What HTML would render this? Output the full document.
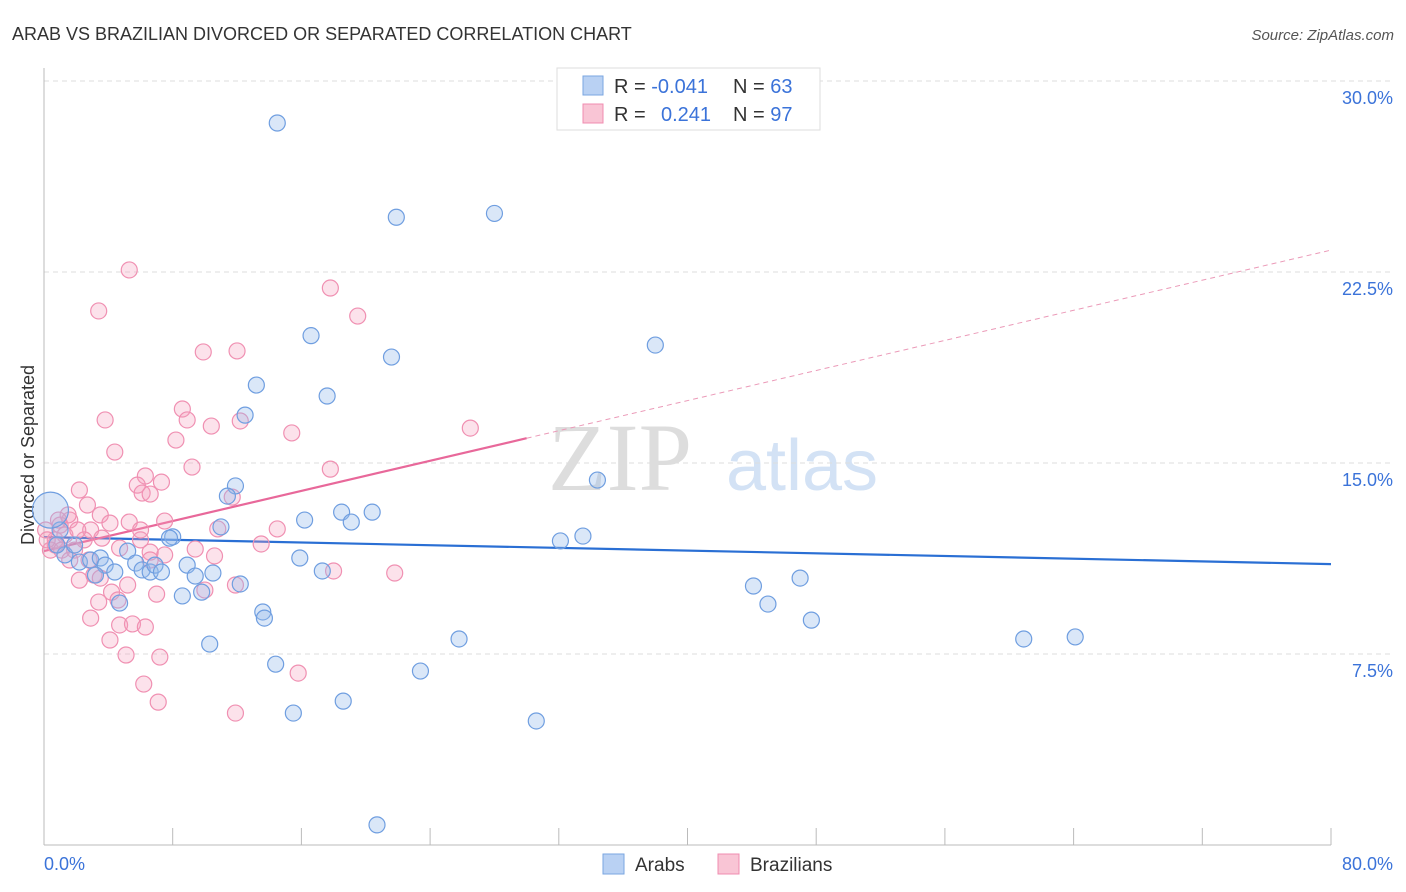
<!DOCTYPE html>
<html><head><meta charset="utf-8"><style>
body{margin:0;background:#fff;width:1406px;height:892px;overflow:hidden;font-family:"Liberation Sans",sans-serif}
svg{position:absolute;left:0;top:0}
</style></head><body>
<svg id="chart" width="1406" height="892">
<text x="12" y="40" font-size="18" fill="#333">ARAB VS BRAZILIAN DIVORCED OR SEPARATED CORRELATION CHART</text>
<text x="1394" y="40" font-size="15" fill="#555" font-style="italic" text-anchor="end">Source: ZipAtlas.com</text>
<text x="620" y="490" font-size="96" fill="#ddd" font-family="Liberation Serif,serif" text-anchor="middle">ZIP</text>
<text x="802" y="490" font-size="72" fill="#d3e2f5" text-anchor="middle">atlas</text>
<text transform="translate(34,455) rotate(-90)" font-size="18" fill="#333" text-anchor="middle">Divorced or Separated</text>
<g id="grid"></g><g id="axes"></g><g id="lines"></g><g id="pts"></g>
<g>
<rect x="557" y="68" width="263" height="62" fill="#fff" stroke="#ddd"/>
<rect x="583" y="76" width="20" height="19" fill="#b9d1f3" stroke="#7aa6e0"/>
<rect x="583" y="104" width="20" height="19" fill="#f9c5d5" stroke="#f08cb0"/>
<text x="614" y="93" font-size="20" fill="#333">R = <tspan fill="#3b73d9">-0.041</tspan></text>
<text x="733" y="93" font-size="20" fill="#333">N = <tspan fill="#3b73d9">63</tspan></text>
<text x="614" y="121" font-size="20" fill="#333">R = <tspan fill="#3b73d9" x="661">0.241</tspan></text>
<text x="733" y="121" font-size="20" fill="#333">N = <tspan fill="#3b73d9">97</tspan></text>
</g>
<g>
<rect x="603" y="854" width="21" height="20" fill="#b9d1f3" stroke="#7aa6e0"/>
<text x="635" y="871" font-size="19" fill="#333">Arabs</text>
<rect x="718" y="854" width="21" height="20" fill="#f9c5d5" stroke="#f08cb0"/>
<text x="750" y="871" font-size="19" fill="#333">Brazilians</text>
</g>
</svg>
<script>
const yTicks=[7.5,15,22.5,30];
const xTickLabels=["0.0%","80.0%"];
const arabX=[14.5,21.9,28.0,38.0,16.6,21.6,13.2,17.6,12.5,11.9,11.4,34.4,18.5,20.4,19.1,16.2,11.0,8.0,32.1,33.5,15.9,17.3,8.9,10.5,9.4,12.2,8.6,9.8,13.6,13.7,44.1,47.0,45.0,47.7,25.8,10.3,14.4,23.4,60.9,64.1,15.5,18.6,30.6,20.7,1.0,1.3,1.9,2.2,2.9,3.5,3.8,4.4,4.7,5.2,5.7,6.1,6.6,6.9,7.3,3.2,7.8,0.8];
const arabY=[28.35,24.65,24.8,19.63,20.0,19.16,18.06,17.63,16.88,14.1,13.7,14.33,13.07,13.07,12.68,12.76,12.49,12.1,11.94,12.13,11.27,10.76,10.99,10.68,10.56,10.25,9.78,9.93,9.15,8.91,10.17,10.48,9.46,8.83,8.09,7.89,7.1,6.83,8.09,8.17,5.18,5.65,4.87,0.79,12.37,11.39,11.78,11.11,11.19,11.27,10.99,10.72,9.5,11.54,11.07,10.8,10.72,10.99,10.72,10.6,12.05,11.78];
const bigArab=[0.4,13.15];
const brazX=[5.3,3.4,17.8,19.5,9.9,12.0,3.8,4.4,8.6,8.9,10.4,12.2,15.4,26.5,8.2,9.2,17.8,6.3,7.3,5.8,6.1,6.6,2.2,11.7,2.7,1.6,1.0,3.5,4.1,5.3,7.5,10.8,14.5,0.7,0.4,1.3,1.9,2.9,3.6,4.7,6.0,6.6,7.5,9.4,10.6,13.5,2.8,3.1,3.5,2.2,4.2,4.6,3.4,5.2,7.0,11.9,10.0,18.0,21.8,2.9,4.7,5.5,6.3,4.1,5.1,7.2,6.2,7.1,11.9,15.8,0.7,1.1,1.6,0.1,0.2,2.5,6.0,6.6,1.5,2.1,0.9];
const brazY=[22.58,20.97,21.87,20.77,19.36,19.4,16.69,15.43,17.12,16.69,16.45,16.65,16.18,16.37,15.9,14.84,14.76,14.49,14.25,14.13,13.82,13.78,13.94,13.66,13.35,12.76,12.56,12.96,12.64,12.68,12.72,12.41,12.41,11.98,11.58,12.17,11.58,12.37,12.05,11.66,11.98,11.5,11.39,11.62,11.35,11.82,11.19,10.6,10.48,10.4,9.93,9.62,9.54,10.21,9.85,10.21,10.01,10.76,10.68,8.91,8.64,8.68,8.56,8.05,7.46,7.38,6.32,5.61,5.18,6.75,11.78,11.58,11.19,12.37,11.98,11.98,12.37,11.19,12.96,12.37,12.76];
const arabTrend=[12.09,11.03];
const brazTrend=[11.54,23.36];
const brazSolidEnd=30;
const X=v=>44+v*1287/80, Y=v=>845-v*25.467;
const NS="http://www.w3.org/2000/svg";
function mk(tag,parent,attrs){const e=document.createElementNS(NS,tag);for(const k in attrs)e.setAttribute(k,attrs[k]);document.getElementById(parent).appendChild(e);return e;}
yTicks.forEach(t=>{
 const l=mk('line','grid',{x1:44,x2:1394,y1:Y(t),y2:Y(t),stroke:'#ddd','stroke-dasharray':'5,4'});
 
 
 const tx=mk('text','grid',{x:1393,y:Y(t)+23,'font-size':18,fill:'#3b73d9','text-anchor':'end'});
 tx.textContent=t.toFixed(1)+'%';
 
 
});
const ax=mk('line','axes',{x1:44,x2:1331,y1:845,y2:845,stroke:'#bbb'});


const ay=mk('line','axes',{x1:44,x2:44,y1:68,y2:845,stroke:'#bbb'});


for(let i=0;i<=10;i++){const t=mk('line','axes',{x1:X(i*8),x2:X(i*8),y1:828,y2:845,stroke:'#bbb'});
 
 }
const xl0=mk('text','axes',{x:44,y:870,'font-size':18,fill:'#3b73d9'});xl0.textContent=xTickLabels[0];


const xl1=mk('text','axes',{x:1393,y:870,'font-size':18,fill:'#3b73d9','text-anchor':'end'});xl1.textContent=xTickLabels[1];


function dot(x,y,r,fill,stroke,name){const c=mk('circle','pts',{cx:X(x),cy:Y(y),r:r,fill:fill,stroke:stroke,'stroke-width':1.2});
 
 }
brazX.forEach((x,i)=>dot(x,brazY[i],8,'rgba(245,160,190,0.3)','#f090b2','brazilian-point'));
arabX.forEach((x,i)=>dot(x,arabY[i],8,'rgba(150,185,235,0.35)','#6f9ee0','arab-point'));
dot(bigArab[0],bigArab[1],18,'rgba(150,185,235,0.35)','#6f9ee0','arab-point-large');
const bl=mk('line','lines',{x1:X(0),y1:Y(arabTrend[0]),x2:X(80),y2:Y(arabTrend[1]),stroke:'#2a6fd4','stroke-width':2.2});


const pY=x=>brazTrend[0]+(brazTrend[1]-brazTrend[0])*x/80;
const ps=mk('line','lines',{x1:X(0),y1:Y(pY(0)),x2:X(brazSolidEnd),y2:Y(pY(brazSolidEnd)),stroke:'#e8689a','stroke-width':2.2});


const pd=mk('line','lines',{x1:X(brazSolidEnd),y1:Y(pY(brazSolidEnd)),x2:X(80),y2:Y(pY(80)),stroke:'#eb9ab8','stroke-width':1,'stroke-dasharray':'5,4'});


</script>
</body></html>
